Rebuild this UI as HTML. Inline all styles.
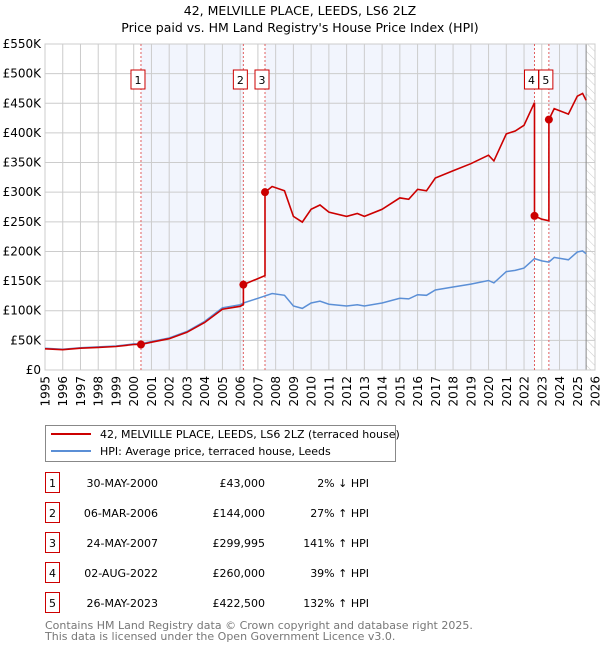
<!DOCTYPE html>
<html><head><meta charset="utf-8"><style>
body{margin:0;background:#fff;font-family:"Liberation Sans","DejaVu Sans",sans-serif;}
svg text{font-family:"DejaVu Sans","Liberation Sans",sans-serif;}
</style></head><body>
<svg id="chart" width="600" height="650" xmlns="http://www.w3.org/2000/svg">
<defs><pattern id="hatch" width="6" height="6" patternUnits="userSpaceOnUse" patternTransform="rotate(-45)"><line x1="0" y1="0" x2="0" y2="6" stroke="#ccc" stroke-width="1"/></pattern></defs>
<text x="300" y="15" text-anchor="middle" font-size="12.5" fill="#000">42, MELVILLE PLACE, LEEDS, LS6 2LZ</text>
<text x="300" y="32" text-anchor="middle" font-size="12.5" fill="#000">Price paid vs. HM Land Registry's House Price Index (HPI)</text>
<g id="plot"></g>
<g>
<rect x="45.5" y="425.5" width="350" height="36" fill="#fff" stroke="#888"/>
<line x1="51" y1="434" x2="91" y2="434" stroke="#cc0000" stroke-width="2"/>
<text x="100" y="438" font-size="11">42, MELVILLE PLACE, LEEDS, LS6 2LZ (terraced house)</text>
<line x1="51" y1="451" x2="91" y2="451" stroke="#5b8fd6" stroke-width="2"/>
<text x="100" y="455" font-size="11">HPI: Average price, terraced house, Leeds</text>
</g>
<g id="table"></g>
<text x="45" y="629" font-size="11" fill="#777">Contains HM Land Registry data © Crown copyright and database right 2025.</text>
<text x="45" y="640" font-size="11" fill="#777">This data is licensed under the Open Government Licence v3.0.</text>
</svg>
<script>
const hpiYears=[1995,1996,1997,1998,1999,2000,2000.41,2001,2002,2003,2004,2005,2006,2006.18,2007,2007.4,2007.8,2008.5,2009,2009.5,2010,2010.5,2011,2012,2012.6,2013,2014,2015,2015.5,2016,2016.5,2017,2018,2019,2020,2020.3,2021,2021.5,2022,2022.59,2023,2023.4,2023.7,2024.5,2025,2025.3,2025.5];
const hpiValues=[36600,35000,37600,39000,40500,44000,44000,48000,54000,65000,82000,105000,110000,113000,121000,125000,129000,126000,108000,104000,113000,116000,111000,108000,110000,108000,113000,121000,120000,127000,126000,135000,140000,145000,151000,147000,166000,168000,172000,188000,184000,182000,190000,186000,199000,201000,196000];
const saleLabels=["1","2","3","4","5"];
const saleDates=[2000.41,2006.18,2007.4,2022.59,2023.4];
const saleDateText=["30-MAY-2000","06-MAR-2006","24-MAY-2007","02-AUG-2022","26-MAY-2023"];
const salePrices=[43000,144000,299995,260000,422500];
const salePriceText=["£43,000","£144,000","£299,995","£260,000","£422,500"];
const saleHpiText=["2% ↓ HPI","27% ↑ HPI","141% ↑ HPI","39% ↑ HPI","132% ↑ HPI"];
const yTicks=[0,50000,100000,150000,200000,250000,300000,350000,400000,450000,500000,550000];
const yTickLabels=["£0","£50K","£100K","£150K","£200K","£250K","£300K","£350K","£400K","£450K","£500K","£550K"];
const xTicks=[1995,1996,1997,1998,1999,2000,2001,2002,2003,2004,2005,2006,2007,2008,2009,2010,2011,2012,2013,2014,2015,2016,2017,2018,2019,2020,2021,2022,2023,2024,2025,2026];
const dataEnd=2025.5;

const NS="http://www.w3.org/2000/svg";
const L=45,R=595,T=44,B=370;
const xs=v=>L+(v-1995)/(2026-1995)*(R-L);
const ys=v=>B-v/550000*(B-T);
const plot=document.getElementById('plot');
function mk(tag,at,parent){const e=document.createElementNS(NS,tag);for(const k in at)e.setAttribute(k,at[k]);(parent||plot).appendChild(e);return e;}
function hpiAt(t){if(t<=hpiYears[0])return hpiValues[0];for(let i=1;i<hpiYears.length;i++){if(t<=hpiYears[i]){const f=(t-hpiYears[i-1])/(hpiYears[i]-hpiYears[i-1]);return hpiValues[i-1]+f*(hpiValues[i]-hpiValues[i-1]);}}return hpiValues[hpiValues.length-1];}

mk('rect',{x:L,y:T,width:R-L,height:B-T,fill:'#fff'});
const shadeSpans=[[0,1],[2,3]];
for(const [a,b] of shadeSpans){const r=mk('rect',{x:xs(saleDates[a]),y:T,width:xs(saleDates[b])-xs(saleDates[a]),height:B-T,fill:'#f2f5fd'});

}
{const r=mk('rect',{x:xs(saleDates[4]),y:T,width:xs(dataEnd)-xs(saleDates[4]),height:B-T,fill:'#f2f5fd'});

}
{const r=mk('rect',{x:xs(dataEnd),y:T,width:R-xs(dataEnd),height:B-T,fill:'url(#hatch)'});

}
yTicks.forEach((v,i)=>{mk('line',{x1:L,x2:R,y1:ys(v),y2:ys(v),stroke:'#ccc','stroke-width':1});
const t=mk('text',{x:L-4,y:ys(v)+4,'text-anchor':'end','font-size':12});t.textContent=yTickLabels[i];

});
xTicks.forEach(v=>{mk('line',{x1:xs(v),x2:xs(v),y1:T,y2:B,stroke:'#ccc','stroke-width':1});
const t=mk('text',{x:0,y:0,'text-anchor':'end','font-size':12,transform:`translate(${xs(v)+4.5},${B+6}) rotate(-90)`});t.textContent=v;

});
mk('line',{x1:xs(dataEnd),x2:xs(dataEnd),y1:T,y2:B,stroke:'#888','stroke-width':1});
mk('rect',{x:L,y:T,width:R-L,height:B-T,fill:'none',stroke:'#ccc'});
saleDates.forEach((d,i)=>{const l=mk('line',{x1:xs(d),x2:xs(d),y1:T,y2:B,stroke:'#e06060','stroke-width':1,'stroke-dasharray':'2,2'});


const cx=xs(d)-3;
const bx=mk('rect',{x:cx-7,y:70,width:14,height:19,fill:'#fff',stroke:'#cc0000'});


const t=mk('text',{x:cx,y:84,'text-anchor':'middle','font-size':11});t.textContent=saleLabels[i];});
let hp=hpiYears.filter(y=>y<=dataEnd).map((y,i)=>`${i?'L':'M'}${xs(y).toFixed(1)},${ys(hpiValues[i]).toFixed(1)}`).join('');
const hl=mk('path',{d:hp,fill:'none',stroke:'#5b8fd6','stroke-width':1.5});


let pts=[];
function seg(t0,t1,k){const arr=[t0,...hpiYears.filter(y=>y>t0&&y<t1),t1];arr.forEach(t=>pts.push([t,salePrices[k]*hpiAt(t)/hpiAt(saleDates[k])]));}
seg(1995,saleDates[0],0);
for(let k=0;k<5;k++)seg(saleDates[k],k<4?saleDates[k+1]:dataEnd,k);
const rd=pts.map((p,i)=>`${i?'L':'M'}${xs(p[0]).toFixed(1)},${ys(p[1]).toFixed(1)}`).join('');
const rl=mk('path',{d:rd,fill:'none',stroke:'#cc0000','stroke-width':1.6});


saleDates.forEach((d,i)=>{const c=mk('circle',{cx:xs(d),cy:ys(salePrices[i]),r:4,fill:'#cc0000'});

});
const tb=document.getElementById('table');
saleLabels.forEach((s,i)=>{const y=483+i*30;
const b=mk('rect',{x:45.5,y:y-10.5,width:14,height:20,fill:'#fff',stroke:'#cc0000'},tb);


const cells=[[52.5,'middle',s],[158,'end',saleDateText[i]],[265,'end',salePriceText[i]],[369,'end',saleHpiText[i]]];
cells.forEach(c=>{const t=mk('text',{x:c[0],y:y+4,'text-anchor':c[1],'font-size':11},tb);t.textContent=c[2];});});
</script>
</body></html>
